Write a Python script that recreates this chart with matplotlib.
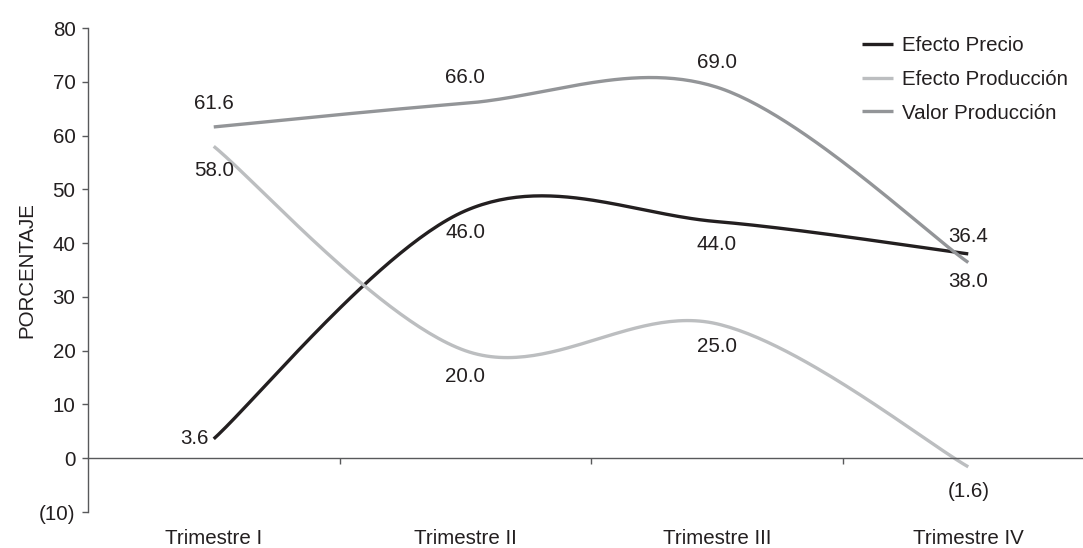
import numpy as np
import matplotlib
matplotlib.use("Agg")
import matplotlib.pyplot as plt
import matplotlib.transforms as mtransforms

plt.rcParams['font.family'] = ['Liberation Sans', 'DejaVu Sans']

trimestres = ["Trimestre I", "Trimestre II", "Trimestre III", "Trimestre IV"]
efecto_precio = [3.6, 46.0, 44.0, 38.0]
efecto_produccion = [58.0, 20.0, 25.0, -1.6]
valor_produccion = [61.6, 66.0, 69.0, 36.4]
yticks = [-10, 0, 10, 20, 30, 40, 50, 60, 70, 80]

FS = 14.8
TXT = "#231f20"


def fmt(v):
    return f"{v:.1f}" if v >= 0 else f"({-v:.1f})"


def smooth(xs, ys, n=60):
    # Excel style smoothed line: cubic bezier, control points from neighbours / 6
    P = np.column_stack([xs, ys]).astype(float)
    out = []
    for i in range(len(P) - 1):
        p0 = P[i]
        p3 = P[i + 1]
        pm = P[i - 1] if i > 0 else P[i]
        pp = P[i + 2] if i + 2 < len(P) else P[i + 1]
        p1 = p0 + (p3 - pm) / 6
        p2 = p3 - (pp - p0) / 6
        t = np.linspace(0, 1, n)[:, None]
        seg = ((1 - t)**3 * p0 + 3 * (1 - t)**2 * t * p1
               + 3 * (1 - t) * t**2 * p2 + t**3 * p3)
        out.append(seg if i == 0 else seg[1:])
    out = np.vstack(out)
    return out[:, 0], out[:, 1]


fig = plt.figure(figsize=(10.83, 5.48), dpi=100)
ax = fig.add_axes([88 / 1083, 36 / 548, 1006 / 1083, 484 / 548])

x = np.arange(len(trimestres))
series = [
    ("Efecto Precio", efecto_precio, "#231f20"),
    ("Efecto Producción", efecto_produccion, "#bcbec0"),
    ("Valor Producción", valor_produccion, "#939598"),
]
for name, vals, col in series:
    sx, sy = smooth(x, vals)
    ax.plot(sx, sy, color=col, lw=2.4, label=name, solid_capstyle='butt',
            clip_on=False)

# data labels: offset in pixels (dx, dy), positive dy = up
place = {
    "Efecto Precio": [(-5, 0, 'right'), (0, -22, 'center'), (0, -23, 'center'), (0, -28, 'center')],
    "Efecto Producción": [(0, -24, 'center'), (0, -26, 'center'), (0, -23, 'center'), (0, -25, 'center')],
    "Valor Producción": [(0, 23, 'center'), (0, 26, 'center'), (0, 25, 'center'), (0, 26, 'center')],
}
for name, vals, col in series:
    for i, v in enumerate(vals):
        dx, dy, ha = place[name][i]
        ax.annotate(fmt(v), (x[i], v), xytext=(dx * 0.72, dy * 0.72),
                    textcoords='offset points', ha=ha, va='center',
                    fontsize=FS, color=TXT)

ax.set_xlim(-0.5, 3.5)
ax.set_ylim(-10, 80)
ax.set_yticks(yticks)
ax.set_yticklabels([fmt(t).replace(".0", "") for t in yticks])
ax.tick_params(axis='y', direction='out', length=4, width=1, color="#58595b",
               labelsize=FS, labelcolor=TXT, pad=5)

ax.spines['top'].set_visible(False)
ax.spines['right'].set_visible(False)
ax.spines['bottom'].set_position(('data', 0))
for s in ('left', 'bottom'):
    ax.spines[s].set_color("#58595b")
    ax.spines[s].set_linewidth(1)

ax.set_xticks([])
ax.set_xticks([0.5, 1.5, 2.5], minor=True)
ax.tick_params(axis='x', which='minor', direction='out', length=4, width=1,
               color="#58595b")

trans = mtransforms.blended_transform_factory(ax.transData, ax.transAxes)
for i, lab in enumerate(trimestres):
    ax.text(x[i], -27 / 484, lab, transform=trans, ha='center', va='center',
            fontsize=FS, color=TXT)

ax.set_ylabel("PORCENTAJE", fontsize=FS, color=TXT)
ax.yaxis.set_label_coords(-52 / 1006, 0.5)

ax.legend(loc='upper left', bbox_to_anchor=(862 / 1083, 1 - 36 / 548),
          bbox_transform=fig.transFigure, frameon=False, fontsize=FS,
          handlelength=1.5, handletextpad=0.45, labelspacing=0.72,
          borderpad=0, borderaxespad=0, labelcolor=TXT)

fig.savefig("out.png", dpi=100)
